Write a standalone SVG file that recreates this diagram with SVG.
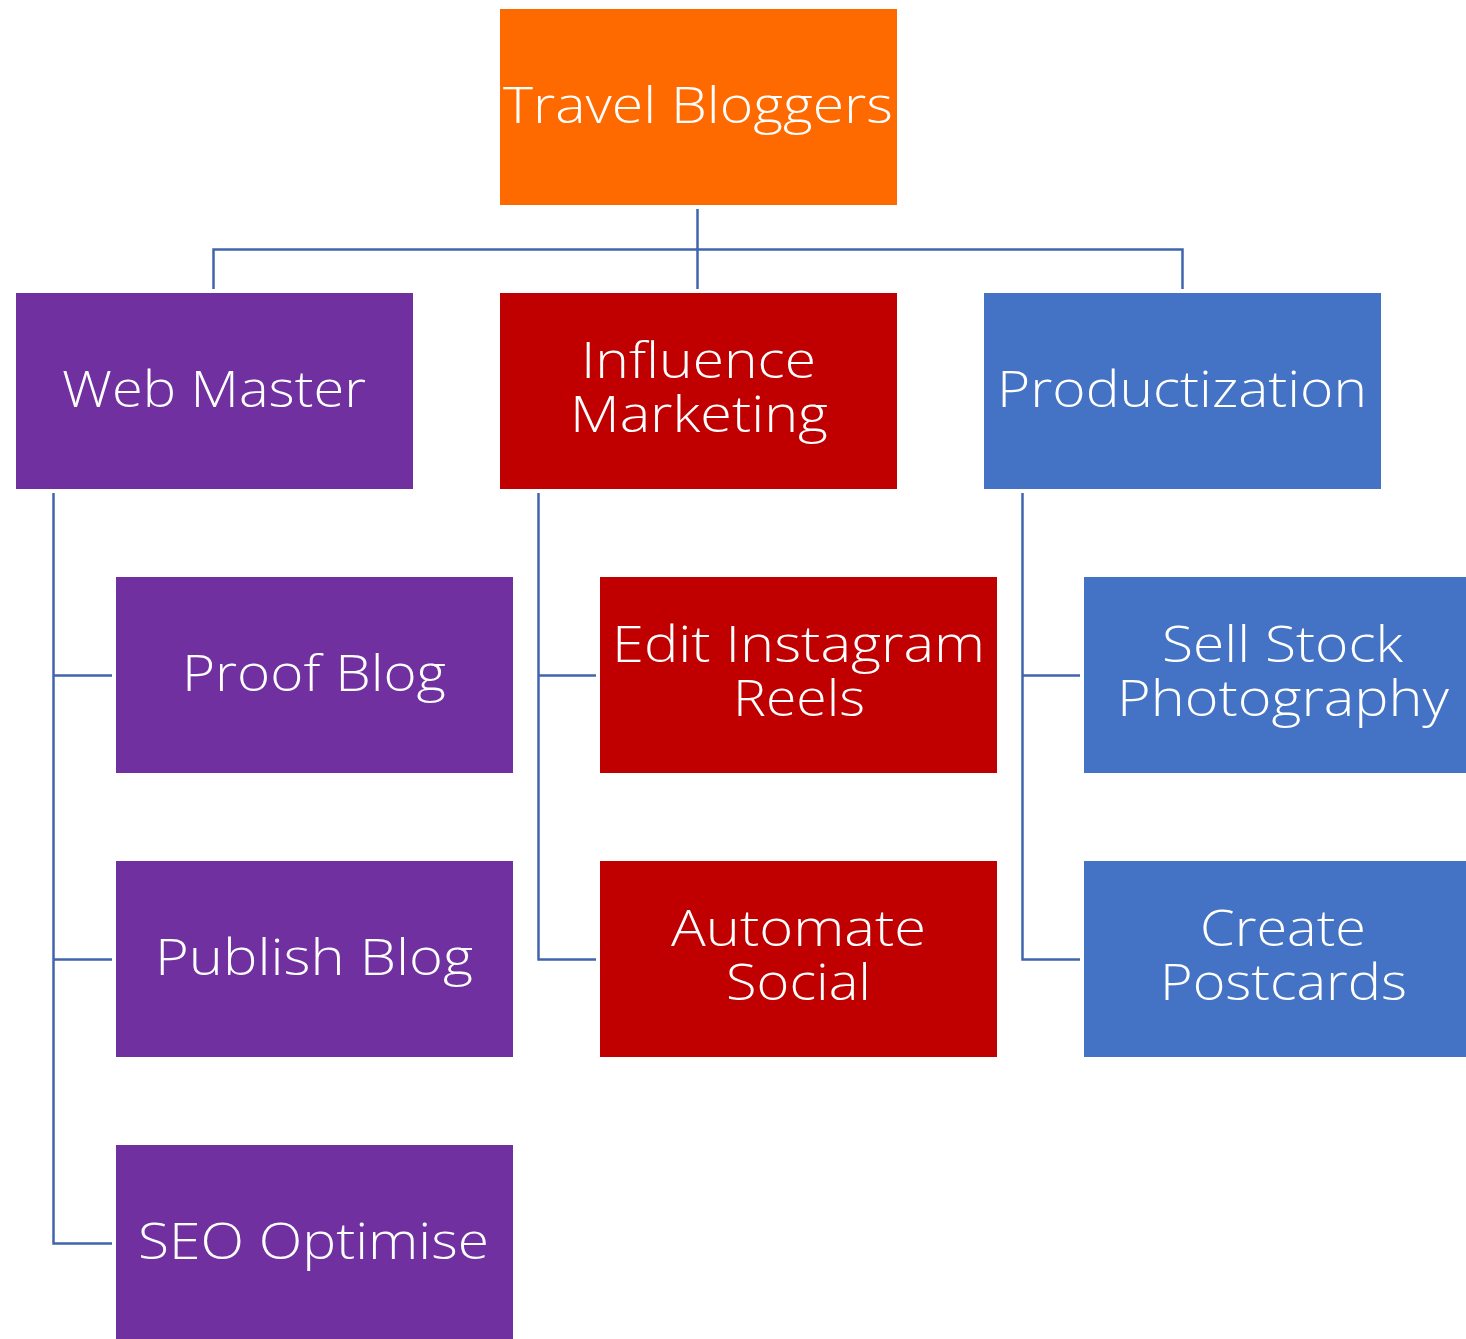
<svg xmlns="http://www.w3.org/2000/svg" width="1466" height="1339" viewBox="0 0 1466 1339">
<style>
.t{font-family:"Open Sans","Liberation Sans",sans-serif;font-size:50px;font-weight:300;fill:#fff;text-anchor:middle}
.c{fill:none;stroke:#4065AD;stroke-width:2.5}
.o{fill:#FF6A00}.p{fill:#7030A0}.r{fill:#C00000}.b{fill:#4472C4}
</style>
<rect width="1466" height="1339" fill="#fff"/>
<g id="connectors" class="c">
<path d="M697.5 209V289"/>
<path d="M213.5 289V249.5H1182.5V289"/>
<path d="M53.5 493V1243.5H112M53.5 675.5H112M53.5 959.5H112"/>
<path d="M538.5 493V959.5H596M538.5 675.5H596"/>
<path d="M1022.5 493V959.5H1080M1022.5 675.5H1080"/>
</g>
<g id="n-root"><rect class="o" x="500" y="9" width="397" height="196"/><text class="t" x="698" y="123" textLength="390" lengthAdjust="spacingAndGlyphs">Travel Bloggers</text></g>
<g id="n-web"><rect class="p" x="16" y="293" width="397" height="196"/><text class="t" x="214" y="407" textLength="304" lengthAdjust="spacingAndGlyphs">Web Master</text></g>
<g id="n-influence"><rect class="r" x="500" y="293" width="397" height="196"/><text class="t" x="698.5" y="378" textLength="235" lengthAdjust="spacingAndGlyphs">Influence</text><text class="t" x="699" y="432" textLength="258" lengthAdjust="spacingAndGlyphs">Marketing</text></g>
<g id="n-product"><rect class="b" x="984" y="293" width="397" height="196"/><text class="t" x="1182" y="407" textLength="370" lengthAdjust="spacingAndGlyphs">Productization</text></g>
<g id="n-proof"><rect class="p" x="116" y="577" width="397" height="196"/><text class="t" x="314" y="691" textLength="264" lengthAdjust="spacingAndGlyphs">Proof Blog</text></g>
<g id="n-publish"><rect class="p" x="116" y="861" width="397" height="196"/><text class="t" x="314" y="975" textLength="318" lengthAdjust="spacingAndGlyphs">Publish Blog</text></g>
<g id="n-seo"><rect class="p" x="116" y="1145" width="397" height="194"/><text class="t" x="313.5" y="1259" textLength="351" lengthAdjust="spacingAndGlyphs">SEO Optimise</text></g>
<g id="n-edit"><rect class="r" x="600" y="577" width="397" height="196"/><text class="t" x="798.5" y="662" textLength="373" lengthAdjust="spacingAndGlyphs">Edit Instagram</text><text class="t" x="799" y="716" textLength="132" lengthAdjust="spacingAndGlyphs">Reels</text></g>
<g id="n-automate"><rect class="r" x="600" y="861" width="397" height="196"/><text class="t" x="798.5" y="946" textLength="255" lengthAdjust="spacingAndGlyphs">Automate</text><text class="t" x="798.5" y="1000" textLength="145" lengthAdjust="spacingAndGlyphs">Social</text></g>
<g id="n-stock"><rect class="b" x="1084" y="577" width="382" height="196"/><text class="t" x="1282.5" y="662" textLength="241" lengthAdjust="spacingAndGlyphs">Sell Stock</text><text class="t" x="1283" y="716" textLength="332" lengthAdjust="spacingAndGlyphs">Photography</text></g>
<g id="n-postcards"><rect class="b" x="1084" y="861" width="382" height="196"/><text class="t" x="1283" y="946" textLength="166" lengthAdjust="spacingAndGlyphs">Create</text><text class="t" x="1283.5" y="1000" textLength="247" lengthAdjust="spacingAndGlyphs">Postcards</text></g>
</svg>
